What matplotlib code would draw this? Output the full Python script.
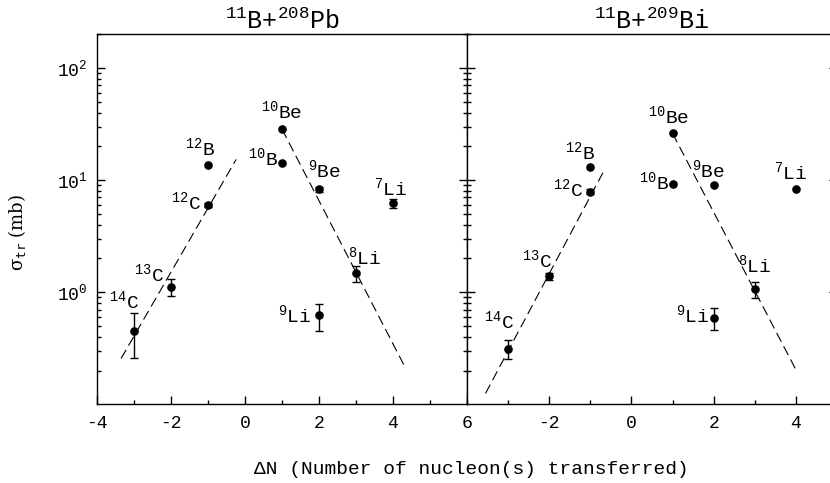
import numpy as np
import matplotlib
matplotlib.use("Agg")
import matplotlib.pyplot as plt
from matplotlib.ticker import FixedLocator, MultipleLocator, LogLocator, NullFormatter

plt.rcParams['font.family'] = ['Liberation Mono', 'DejaVu Sans']
plt.rcParams['mathtext.rm'] = 'Liberation Mono'
plt.rcParams['mathtext.it'] = 'Liberation Mono'
plt.rcParams['mathtext.bf'] = 'Liberation Mono:bold'
plt.rcParams['axes.unicode_minus'] = False

# Ejectile labels (same order for both systems)
ejectiles = ["$^{14}$C", "$^{13}$C", "$^{12}$C", "$^{12}$B", "$^{10}$B",
             "$^{10}$Be", "$^{9}$Be", "$^{8}$Li", "$^{9}$Li", "$^{7}$Li"]
delta_n = [-3, -2, -1, -1, 1, 1, 2, 3, 2, 4]

# 11B + 208Pb transfer cross sections (mb)
pb_sigma = [0.45, 1.11, 6.0, 13.6, 14.3, 28.5, 8.3, 1.48, 0.62, 6.2]
pb_err_lo = [0.19, 0.19, 0.3, 0.0, 0.0, 0.0, 0.4, 0.25, 0.17, 0.6]
pb_err_hi = [0.20, 0.20, 0.3, 0.0, 0.0, 0.0, 0.4, 0.23, 0.17, 0.6]

# 11B + 209Bi transfer cross sections (mb)
bi_sigma = [0.314, 1.39, 7.9, 13.0, 9.2, 26.1, 9.0, 1.06, 0.59, 8.4]
bi_err_lo = [0.06, 0.1, 0.4, 0.0, 0.0, 0.0, 0.0, 0.18, 0.13, 0.0]
bi_err_hi = [0.06, 0.1, 0.4, 0.0, 0.0, 0.0, 0.0, 0.18, 0.13, 0.0]

# Systematics (exponential trends) for pickup and stripping
pb_trend_pick_dn = [-3.35, -0.24]
pb_trend_pick_sigma = [0.256, 15.3]
pb_trend_strip_dn = [1.0, 4.33]
pb_trend_strip_sigma = [28.5, 0.213]
bi_trend_pick_dn = [-3.55, -0.68]
bi_trend_pick_sigma = [0.125, 11.9]
bi_trend_strip_dn = [1.0, 4.03]
bi_trend_strip_sigma = [26.1, 0.194]

# label offsets (pixels) relative to the data points
pb_offsets = [(-9.6, 23), (-22.3, 5.7), (-21.6, -4.3), (-8.3, 10), (-19.3, -3),
              (-0.3, 10.7), (5.4, 11.3), (8.8, 9), (-24.3, -6.7), (-2.5, 8.3)]
bi_offsets = [(-9.1, 20), (-12.3, 8.7), (-22, -5), (-10.3, 8.3), (-19, -5.7),
              (-3.5, 10), (-5.4, 8.3), (-0.3, 16.7), (-21.2, -5), (-5.2, 9.7)]

W, H = 830, 483
fig = plt.figure(figsize=(W / 100, H / 100), dpi=100)
ax_l = fig.add_axes([97 / W, 1 - 404.3 / H, 370 / W, 370 / H])
ax_r = fig.add_axes([467 / W, 1 - 404.3 / H, 370 / W, 370 / H])


def draw_panel(ax, title, sigma, err_lo, err_hi, pick, strip, offsets, xlim, xticks):
    x = np.array(delta_n, dtype=float)
    y = np.array(sigma)
    lo = np.array(err_lo)
    hi = np.array(err_hi)
    for tx, ty in (pick, strip):
        ax.plot(tx, ty, color='black', lw=0.8, dashes=(9, 4.5))
    m = (lo > 0) | (hi > 0)
    ax.errorbar(x[m], y[m], yerr=[lo[m], hi[m]], fmt='none', ecolor='black',
                elinewidth=1.0, capsize=3, capthick=1.0)
    ax.plot(x, y, 'o', color='black', ms=5.2, zorder=5)
    for lab, xi, yi, (dx, dy) in zip(ejectiles, x, y, offsets):
        ax.annotate(lab, (xi, yi), xytext=(dx, dy), textcoords='offset pixels',
                    ha='center', va='baseline', fontsize=14,
                    math_fontfamily='custom')
    ax.set_yscale('log')
    ax.set_ylim(0.1, 200)
    ax.set_xlim(*xlim)
    ax.xaxis.set_major_locator(FixedLocator(xticks))
    ax.xaxis.set_minor_locator(MultipleLocator(1))
    ax.yaxis.set_major_locator(FixedLocator([1, 10, 100]))
    ax.yaxis.set_minor_locator(LogLocator(base=10, subs=np.arange(2, 10), numticks=20))
    ax.yaxis.set_minor_formatter(NullFormatter())
    ax.tick_params(which='both', direction='in', left=True, right=True, top=False,
                   bottom=True, width=1.0)
    ax.tick_params(which='major', length=5.5)
    ax.tick_params(which='minor', length=3)
    ax.tick_params(axis='x', labelsize=13, pad=8)
    ax.tick_params(axis='y', labelsize=13, pad=7)
    for s in ax.spines.values():
        s.set_linewidth(1.0)
    ax.set_title(title, fontsize=18, math_fontfamily='custom', pad=4)


draw_panel(ax_l, "$^{11}$B+$^{208}$Pb", pb_sigma, pb_err_lo, pb_err_hi,
           (pb_trend_pick_dn, pb_trend_pick_sigma),
           (pb_trend_strip_dn, pb_trend_strip_sigma),
           pb_offsets, (-4, 6), [-4, -2, 0, 2, 4, 6])
draw_panel(ax_r, "$^{11}$B+$^{209}$Bi", bi_sigma, bi_err_lo, bi_err_hi,
           (bi_trend_pick_dn, bi_trend_pick_sigma),
           (bi_trend_strip_dn, bi_trend_strip_sigma),
           bi_offsets, (-4, 5), [-2, 0, 2, 4])
ax_r.tick_params(axis='y', labelleft=False)

fig.text(471.5 / W, 1 - 470 / H, "\u0394N (Number of nucleon(s) transferred)",
         ha='center', va='center', fontsize=14)
fig.text(17 / W, 1 - 232 / H, "\u03c3$_{\\mathtt{tr}}$ (mb)", rotation=90,
         ha='center', va='center', fontsize=13, family='DejaVu Serif')

fig.savefig("out.png", dpi=100)
